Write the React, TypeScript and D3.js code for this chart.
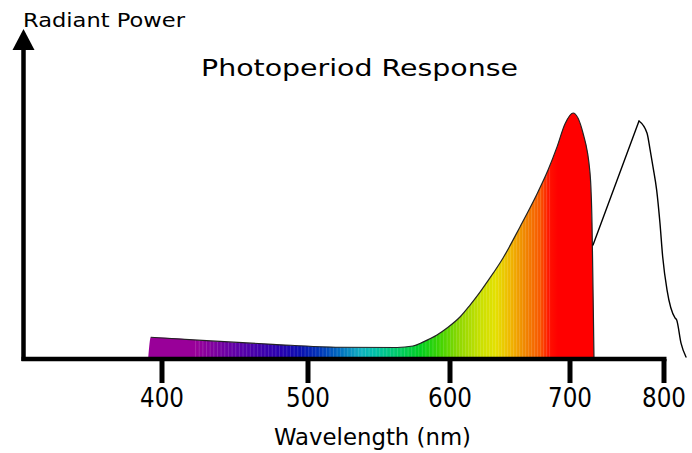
import * as d3 from "d3";

const W = 692;
const H = 453;

// x ticks (nm) – the original axis is not linear, each decade has its own width
const tickNm = [400, 500, 600, 700, 800];
const tickPx = [162, 308, 450, 570, 664];

// visible light spectrum (relative radiant power, peak = 100)
const spectrumNm = [390.6, 392.3, 430.6, 476, 522.5, 562.7, 573.9, 580.9, 590.8, 597.9, 608.3, 616.7, 625, 633.3, 644.2, 658.3, 672.5, 681.7, 689.2, 695.8, 703.2, 713.8, 721.3, 723.4, 724.5, 725.5];
const spectrumPower = [0, 8.1, 6.7, 5.2, 4.0, 3.9, 4.5, 6.1, 9.0, 11.9, 16.4, 21.3, 26.6, 32.4, 40.6, 53.3, 66.8, 76.6, 86.1, 95.5, 100, 91.8, 75.4, 54.9, 27.5, 0];

// far-red response curve
const farRedNm = [724.5, 773.4, 781.9, 785.1, 788.3, 792.2, 795.7, 798.6, 803.2, 811.7, 813.5, 818.1, 823.4];
const farRedPower = [45.9, 96.7, 91.8, 85.2, 77.9, 68.4, 54.9, 41.1, 27.5, 16.0, 15.2, 5.7, 0];

// colour along the spectrum
const colorNm = [392, 423, 453, 481, 495, 509, 523, 537, 547, 565, 579, 593, 608, 625, 638, 650, 662, 675, 683, 690];
const colorHex = ["#990099", "#990099", "#5a00a8", "#2800b0", "#0a10b0", "#0038b8", "#0070c0", "#10b0c0", "#00c0a8", "#00cc60", "#00d020", "#40d400", "#90d800", "#c8e000", "#e4e000", "#f0b800", "#f08800", "#f85800", "#ff1000", "#ff0000"];

const FONT = "'DejaVu Sans', sans-serif";

export default function App() {
  const x = d3.scaleLinear().domain(tickNm).range(tickPx);
  const y = d3.scaleLinear().domain([0, 100]).range([357, 113]);

  const spec = spectrumNm.map((n, i) => [n, spectrumPower[i]] as [number, number]);
  const far = farRedNm.map((n, i) => [n, farRedPower[i]] as [number, number]);

  const area = d3
    .area<[number, number]>()
    .x((d) => x(d[0]))
    .y0(y(0))
    .y1((d) => y(d[1]))
    .curve(d3.curveMonotoneX);
  const line = d3
    .line<[number, number]>()
    .x((d) => x(d[0]))
    .y((d) => y(d[1]))
    .curve(d3.curveMonotoneX);
  const straight = d3
    .line<[number, number]>()
    .x((d) => x(d[0]))
    .y((d) => y(d[1]));

  const gx0 = x(colorNm[0]);
  const gx1 = x(colorNm[colorNm.length - 1]);
  const stripes = d3.range(423, 684, 2.5);

  const axisY = 359;
  const axisX = 23.5;

  return (
    <svg
      width={W}
      height={H}
      viewBox={`0 0 ${W} ${H}`}
      style={{ position: "absolute", left: 0, top: 0, background: "#fff" }}
    >
      <defs>
        <linearGradient id="spec" gradientUnits="userSpaceOnUse" x1={gx0} x2={gx1} y1={0} y2={0}>
          {colorNm.map((n, i) => (
            <stop key={i} offset={(x(n) - gx0) / (gx1 - gx0)} stopColor={colorHex[i]} />
          ))}
        </linearGradient>
        <clipPath id="specClip">
          <path d={area(spec) ?? ""} />
        </clipPath>
      </defs>

      {/* spectrum */}
      <path d={area(spec) ?? ""} fill="url(#spec)" />
      <g clipPath="url(#specClip)">
        {stripes.map((n) => (
          <line
            key={n}
            x1={x(n)}
            x2={x(n)}
            y1={y(0)}
            y2={y(100)}
            stroke="#fff"
            strokeOpacity={0.22}
            strokeWidth={0.7}
          />
        ))}
      </g>
      <path d={line(spec.slice(1)) ?? ""} fill="none" stroke="#222" strokeWidth={1.2} />

      {/* far-red curve: straight rise, smooth fall */}
      <path d={straight(far.slice(0, 2)) ?? ""} fill="none" stroke="#000" strokeWidth={1.4} strokeLinecap="round" />
      <path d={line(far.slice(1)) ?? ""} fill="none" stroke="#000" strokeWidth={1.4} strokeLinecap="round" />

      {/* axes */}
      <line x1={axisX - 2} x2={x(800) + 2.5} y1={axisY} y2={axisY} stroke="#000" strokeWidth={4.5} />
      <line x1={axisX} x2={axisX} y1={axisY + 2} y2={48} stroke="#000" strokeWidth={4.5} />
      <path d={`M${axisX},29 L${axisX + 11},50 L${axisX - 11},50 Z`} fill="#000" />
      {tickNm.map((t) => (
        <g key={t}>
          <line x1={x(t)} x2={x(t)} y1={axisY} y2={383} stroke="#000" strokeWidth={5} />
          <text
            x={x(t)}
            y={407}
            textAnchor="middle"
            fontFamily={FONT}
            fontSize={26}
            textLength={44}
            lengthAdjust="spacingAndGlyphs"
            fill="#000"
          >
            {t}
          </text>
        </g>
      ))}

      <text x={23} y={27} fontFamily={FONT} fontSize={19} textLength={162} lengthAdjust="spacingAndGlyphs">
        Radiant Power
      </text>
      <text x={201} y={76} fontFamily={FONT} fontSize={23} textLength={317} lengthAdjust="spacingAndGlyphs">
        Photoperiod Response
      </text>
      <text x={274} y={445} fontFamily={FONT} fontSize={23} textLength={197} lengthAdjust="spacingAndGlyphs">
        Wavelength (nm)
      </text>
    </svg>
  );
}
